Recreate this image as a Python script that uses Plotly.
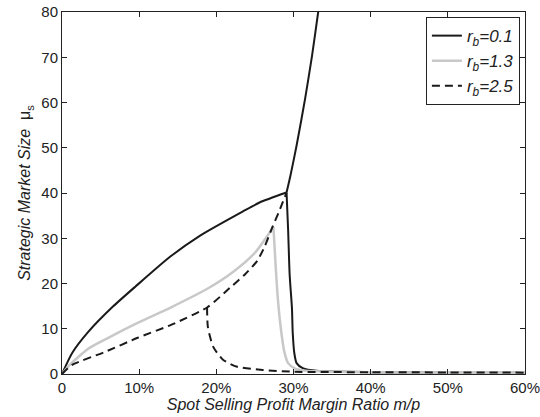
import plotly.graph_objects as go

# r_b = 0.1 (black solid): rising branch | drop branch | upper branch
rb01_x = [0, 0.013, 0.034, 0.066, 0.095, 0.14, 0.179, 0.234, 0.256, 0.291,
          None,
          0.291, 0.293, 0.295, 0.298, 0.299, 0.301, 0.304, 0.312, 0.33, 0.4, 0.5, 0.6,
          None,
          0.291, 0.296, 0.304, 0.315, 0.324, 0.332, 0.34]
rb01_y = [0, 4.6, 9.3, 14.9, 19.3, 25.9, 30.6, 35.9, 37.9, 40.1,
          None,
          40.1, 32, 22, 14.5, 9.1, 4.7, 2.4, 1.3, 0.7, 0.4, 0.3, 0.25,
          None,
          40.1, 43.8, 50.5, 60.8, 70.3, 80, 90]

# r_b = 1.3 (light gray): rising branch | drop branch
rb13_x = [0, 0.01, 0.034, 0.06, 0.098, 0.142, 0.19, 0.222, 0.25, 0.274,
          None,
          0.274, 0.277, 0.280, 0.284, 0.288, 0.293, 0.302, 0.312, 0.33, 0.4, 0.5, 0.6]
rb13_y = [0, 2.0, 5.6, 8.0, 11.3, 14.8, 19.0, 22.6, 26.8, 32.5,
          None,
          32.5, 23.5, 16.0, 9.5, 5.0, 2.4, 1.2, 0.8, 0.6, 0.4, 0.3, 0.25]

# r_b = 2.5 (black dashed): rising branch | lower fold branch
rb25_x = [0, 0.013, 0.056, 0.098, 0.142, 0.188, 0.218, 0.237, 0.253, 0.263, 0.273, 0.282, 0.291,
          None,
          0.188, 0.189, 0.196, 0.209, 0.227, 0.26, 0.30, 0.4, 0.5, 0.6]
rb25_y = [0, 2.0, 4.9, 8.0, 10.9, 14.7, 19.1, 22.0, 25.0, 28.3, 32.6, 36.2, 40.1,
          None,
          14.7, 10.4, 6.0, 3.1, 1.6, 0.9, 0.5, 0.4, 0.35, 0.3]

legend_names = ["<i>r<sub>b</sub>=0.1</i>", "<i>r<sub>b</sub>=1.3</i>", "<i>r<sub>b</sub>=2.5</i>"]
x_ticks = [0, 0.1, 0.2, 0.3, 0.4, 0.5, 0.6]
x_tick_labels = ["0", "10%", "20%", "30%", "40%", "50%", "60%"]
y_ticks = [0, 10, 20, 30, 40, 50, 60, 70, 80]

FONT = "Liberation Sans, Arial, sans-serif"

fig = go.Figure()
fig.add_trace(go.Scatter(x=rb01_x, y=rb01_y, mode="lines", name=legend_names[0],
                         line=dict(color="#1a1a1a", width=2, shape="spline", smoothing=0.6),
                         connectgaps=False))
fig.add_trace(go.Scatter(x=rb13_x, y=rb13_y, mode="lines", name=legend_names[1],
                         line=dict(color="#c8c8c8", width=2.5, shape="spline", smoothing=0.6),
                         connectgaps=False))
fig.add_trace(go.Scatter(x=rb25_x, y=rb25_y, mode="lines", name=legend_names[2],
                         line=dict(color="#1a1a1a", width=2, dash="8px,5px", shape="spline", smoothing=0.6),
                         connectgaps=False))

axis_common = dict(showline=True, linecolor="#222", linewidth=1, mirror="ticks",
                   ticks="inside", ticklen=5, tickcolor="#222", showgrid=False,
                   zeroline=False, automargin=False,
                   tickfont=dict(family=FONT, size=15, color="#222"))

fig.update_xaxes(range=[0, 0.6], tickvals=x_ticks, ticktext=x_tick_labels,
                 ticklabeloverflow="allow",
                 title=dict(text="<i>Spot Selling Profit Margin Ratio m/p</i>", standoff=0,
                            font=dict(family=FONT, size=16, color="#222")),
                 **axis_common)
fig.update_yaxes(range=[0, 80], tickvals=y_ticks,
                 title=dict(text="<i>Strategic Market Size</i>  μ<sub>s</sub>", standoff=6,
                            font=dict(family=FONT, size=16, color="#222")),
                 **axis_common)

fig.update_layout(
    width=540, height=417,
    margin=dict(l=62, r=15, t=12, b=43),
    paper_bgcolor="white", plot_bgcolor="white",
    showlegend=True,
    legend=dict(x=0.989, y=0.986, xanchor="right", yanchor="top",
                bordercolor="#222", borderwidth=1, bgcolor="white",
                font=dict(family=FONT, size=17, color="#222"),
                tracegroupgap=0, itemwidth=30),
)

fig.write_html("out.html", config={"displayModeBar": False},
               post_script="document.body.style.margin='0';document.body.style.overflow='hidden';")
